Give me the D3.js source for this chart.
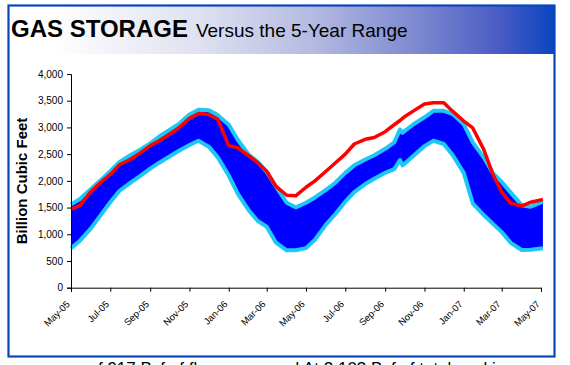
<!DOCTYPE html>
<html><head><meta charset="utf-8">
<script src="https://cdn.jsdelivr.net/npm/d3@7"></script>
<style>
body{margin:0;background:#fff}
svg{display:block;font-family:Arial,"Liberation Sans",sans-serif}
</style>
</head><body>
<svg id="c" width="570" height="365"></svg>
<script>
// ---- data (Bcf), semi-monthly readings ----
const dates = ["2005-05-01","2005-05-15","2005-06-01","2005-06-15","2005-07-01","2005-07-15","2005-08-01","2005-08-15",
"2005-09-01","2005-09-15","2005-10-01","2005-10-15","2005-11-01","2005-11-15","2005-12-01","2005-12-15",
"2006-01-01","2006-01-15","2006-02-01","2006-02-15","2006-03-01","2006-03-15","2006-04-01","2006-04-15",
"2006-05-01","2006-05-15","2006-06-01","2006-06-15","2006-07-01","2006-07-15","2006-08-01","2006-08-15",
"2006-09-01","2006-09-15","2006-09-24","2006-09-28","2006-10-01","2006-10-15","2006-11-01","2006-11-15",
"2006-12-01","2006-12-15","2007-01-01","2007-01-15","2007-02-01","2007-02-15","2007-03-01","2007-03-15",
"2007-04-01","2007-04-15","2007-05-04"];
const rangeMax = [1560,1660,1850,2000,2180,2350,2480,2575,2700,2830,2955,3060,3240,3330,3320,3230,
3050,2770,2490,2355,2165,1900,1590,1505,1590,1690,1830,1960,2150,2290,2400,2480,2600,2720,2960,2900,
2930,3060,3190,3310,3310,3250,3060,2720,2440,2150,1980,1780,1545,1517,1610];
const rangeMin = [740,880,1110,1340,1600,1810,1960,2080,2230,2340,2455,2560,2670,2750,2640,2440,
2100,1760,1450,1250,1140,850,700,700,740,900,1180,1370,1610,1790,1940,2040,2150,2220,2390,2290,
2320,2470,2650,2750,2690,2480,2150,1580,1360,1200,1040,840,705,710,737];
const storage = [1470,1540,1800,1960,2120,2300,2400,2510,2660,2750,2870,2990,3170,3260,3240,3150,
2660,2620,2470,2340,2180,1900,1730,1720,1880,2000,2180,2330,2500,2690,2778,2810,2920,3050,3130,3170,
3200,3310,3440,3463,3463,3300,3120,2990,2590,2130,1790,1580,1529,1600,1650];
const yTicks = [0,500,1000,1500,2000,2500,3000,3500,4000];
const xStart = "2005-05-01", xEnd = "2007-05-01";

const svg = d3.select("#c");
const parse = d3.utcParse("%Y-%m-%d");
const rows = dates.map((d,i)=>({date:parse(d), hi:rangeMax[i], lo:rangeMin[i], v:storage[i]}));

// frame + header
const defs = svg.append("defs");
const g = defs.append("linearGradient").attr("id","hdr").attr("x1","0").attr("x2","1").attr("y1","0").attr("y2","0");
[[0,"#ffffff"],[0.08,"#ffffff"],[0.35,"#dfe1f1"],[0.55,"#b6bce2"],[0.75,"#7c88cf"],[0.9,"#4a5cc4"],[1,"#0a44c0"]]
  .forEach(([o,c])=>g.append("stop").attr("offset",o).attr("stop-color",c));
svg.append("rect").attr("x",9).attr("y",6).attr("width",545).attr("height",48).attr("fill","url(#hdr)");
svg.append("rect").attr("x",8.5).attr("y",5.5).attr("width",546).attr("height",351)
  .attr("fill","none").attr("stroke","#0a46bb").attr("stroke-width",2.2);

const title = svg.append("text").attr("x",11).attr("y",37);
title.append("tspan").attr("font-weight","bold").attr("font-size",24).text("GAS STORAGE");
title.append("tspan").attr("font-size",19).attr("dx",8).text("Versus the 5-Year Range");

// scales
const x = d3.scaleUtc().domain([parse(xStart), parse(xEnd)]).range([71, 541]);
const y = d3.scaleLinear().domain([0,4000]).range([287.7, 74]);

// band
svg.append("path").datum(rows).attr("fill","#0000ff")
  .attr("d", d3.area().x(d=>x(d.date)).y0(d=>y(d.lo)).y1(d=>y(d.hi)));
["hi","lo"].forEach(k=>{
  svg.append("path").datum(rows).attr("fill","none").attr("stroke","#1ec8f6").attr("stroke-width",4)
    .attr("stroke-linejoin","round")
    .attr("d", d3.line().x(d=>x(d.date)).y(d=>y(d[k])));
});
svg.append("path").datum(rows).attr("fill","none").attr("stroke","#ff0000").attr("stroke-width",3.5)
  .attr("stroke-linejoin","round")
  .attr("d", d3.line().x(d=>x(d.date)).y(d=>y(d.v)));

// axes
const yAxis = svg.append("g").attr("transform","translate(71,0)")
  .call(d3.axisLeft(y).tickValues(yTicks).tickSize(4).tickPadding(4).tickFormat(d3.format(",")));
yAxis.select(".domain").attr("stroke","#000");
yAxis.selectAll("text").attr("font-size",10).attr("font-family","Arial,'Liberation Sans',sans-serif").attr("fill","#000");

const xAxis = svg.append("g").attr("transform","translate(0,287.7)")
  .call(d3.axisBottom(x).ticks(d3.utcMonth.every(2)).tickSize(4).tickFormat(d3.utcFormat("%b-%y")));
xAxis.select(".domain").attr("stroke","#000");
xAxis.selectAll("text").attr("font-size",9.5).attr("font-family","Arial,'Liberation Sans',sans-serif")
  .attr("fill","#000").attr("text-anchor","end").attr("y",0).attr("dy",0)
  .attr("transform","translate(-1,17) rotate(-45)");

svg.append("text").attr("transform","translate(27,181) rotate(-90)").attr("text-anchor","middle")
  .attr("font-weight","bold").attr("font-size",15).text("Billion Cubic Feet");

// caption below the frame, cut off by the picture edge as in the reference
const cap = svg.append("text").attr("y",374).attr("font-size",17).attr("fill","#000");
cap.append("tspan").attr("x",88.5).text("of 917 Bcf of flows, a record.");
cap.append("tspan").attr("x",303).text("At 2,103 Bcf of total working gas");
</script>
</body></html>
